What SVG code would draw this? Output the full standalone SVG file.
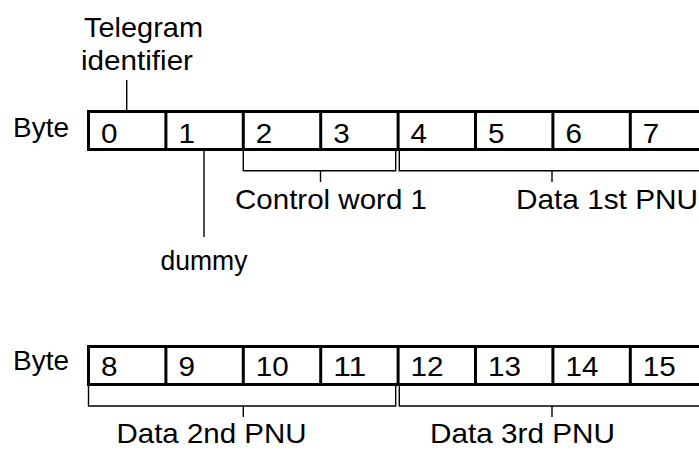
<svg xmlns="http://www.w3.org/2000/svg" width="699" height="450" viewBox="0 0 699 450">
<style>
text{font-family:"Liberation Sans",Arial,sans-serif;fill:#000}
.lbl{font-size:28px}
.num{font-size:27px}
.box{fill:none;stroke:#000;stroke-width:3}
.thin{fill:none;stroke:#000;stroke-width:1.4}
</style>
<rect width="699" height="450" fill="#fff"/>
<g id="telegram-identifier">
<text class="lbl" x="84" y="37" textLength="119" lengthAdjust="spacingAndGlyphs">Telegram</text>
<text class="lbl" x="81" y="70" textLength="112" lengthAdjust="spacingAndGlyphs">identifier</text>
</g>
<g id="row1">
<text class="num" x="13" y="137" textLength="56" lengthAdjust="spacingAndGlyphs">Byte</text>
<rect class="box" x="88.5" y="111.5" width="640" height="38"/>
<g class="box">
<line x1="165.9" y1="111.5" x2="165.9" y2="149.5"/>
<line x1="243.3" y1="111.5" x2="243.3" y2="149.5"/>
<line x1="320.7" y1="111.5" x2="320.7" y2="149.5"/>
<line x1="398.1" y1="111.5" x2="398.1" y2="149.5"/>
<line x1="475.5" y1="111.5" x2="475.5" y2="149.5"/>
<line x1="552.9" y1="111.5" x2="552.9" y2="149.5"/>
<line x1="630.3" y1="111.5" x2="630.3" y2="149.5"/>
</g>
<g class="num">
<text x="101" y="143" textLength="16.5" lengthAdjust="spacingAndGlyphs">0</text>
<text x="178.4" y="143" textLength="16.5" lengthAdjust="spacingAndGlyphs">1</text>
<text x="255.8" y="143" textLength="16.5" lengthAdjust="spacingAndGlyphs">2</text>
<text x="333.2" y="143" textLength="16.5" lengthAdjust="spacingAndGlyphs">3</text>
<text x="410.6" y="143" textLength="16.5" lengthAdjust="spacingAndGlyphs">4</text>
<text x="488" y="143" textLength="16.5" lengthAdjust="spacingAndGlyphs">5</text>
<text x="565.4" y="143" textLength="16.5" lengthAdjust="spacingAndGlyphs">6</text>
<text x="642.8" y="143" textLength="16.5" lengthAdjust="spacingAndGlyphs">7</text>
</g>
</g>
<g id="row2">
<text class="num" x="13" y="370" textLength="56" lengthAdjust="spacingAndGlyphs">Byte</text>
<rect class="box" x="88.5" y="346.5" width="640" height="38"/>
<g class="box">
<line x1="165.9" y1="346.5" x2="165.9" y2="384.5"/>
<line x1="243.3" y1="346.5" x2="243.3" y2="384.5"/>
<line x1="320.7" y1="346.5" x2="320.7" y2="384.5"/>
<line x1="398.1" y1="346.5" x2="398.1" y2="384.5"/>
<line x1="475.5" y1="346.5" x2="475.5" y2="384.5"/>
<line x1="552.9" y1="346.5" x2="552.9" y2="384.5"/>
<line x1="630.3" y1="346.5" x2="630.3" y2="384.5"/>
</g>
<g class="num">
<text x="101" y="376" textLength="16.5" lengthAdjust="spacingAndGlyphs">8</text>
<text x="178.4" y="376" textLength="16.5" lengthAdjust="spacingAndGlyphs">9</text>
<text x="255.8" y="376" textLength="33" lengthAdjust="spacingAndGlyphs">10</text>
<text x="333.2" y="376" textLength="33" lengthAdjust="spacingAndGlyphs">11</text>
<text x="410.6" y="376" textLength="33" lengthAdjust="spacingAndGlyphs">12</text>
<text x="488" y="376" textLength="33" lengthAdjust="spacingAndGlyphs">13</text>
<text x="565.4" y="376" textLength="33" lengthAdjust="spacingAndGlyphs">14</text>
<text x="642.8" y="376" textLength="33" lengthAdjust="spacingAndGlyphs">15</text>
</g>
</g>
<g id="connectors">
<line class="thin" x1="126.7" y1="80" x2="126.7" y2="110"/>
<line class="thin" x1="204" y1="151" x2="204" y2="237"/>
<polyline class="thin" points="243.3,151 243.3,170.7 395.7,170.7 395.7,151"/>
<line class="thin" x1="320.5" y1="170.7" x2="320.5" y2="182"/>
<polyline class="thin" points="720,170.7 399.3,170.7 399.3,151"/>
<line class="thin" x1="552" y1="170.7" x2="552" y2="182"/>
<polyline class="thin" points="88.5,386 88.5,406 395.7,406 395.7,386"/>
<line class="thin" x1="243.3" y1="406" x2="243.3" y2="417"/>
<polyline class="thin" points="720,406 399.3,406 399.3,386"/>
<line class="thin" x1="552" y1="406" x2="552" y2="417"/>
</g>
<g id="labels">
<text class="lbl" x="235" y="209" textLength="192" lengthAdjust="spacingAndGlyphs">Control word 1</text>
<text class="lbl" x="516" y="209" textLength="182" lengthAdjust="spacingAndGlyphs">Data 1st PNU</text>
<text class="lbl" x="160.5" y="270" textLength="87" lengthAdjust="spacingAndGlyphs">dummy</text>
<text class="lbl" x="116.5" y="443" textLength="190" lengthAdjust="spacingAndGlyphs">Data 2nd PNU</text>
<text class="lbl" x="430" y="443" textLength="185" lengthAdjust="spacingAndGlyphs">Data 3rd PNU</text>
</g>
</svg>
